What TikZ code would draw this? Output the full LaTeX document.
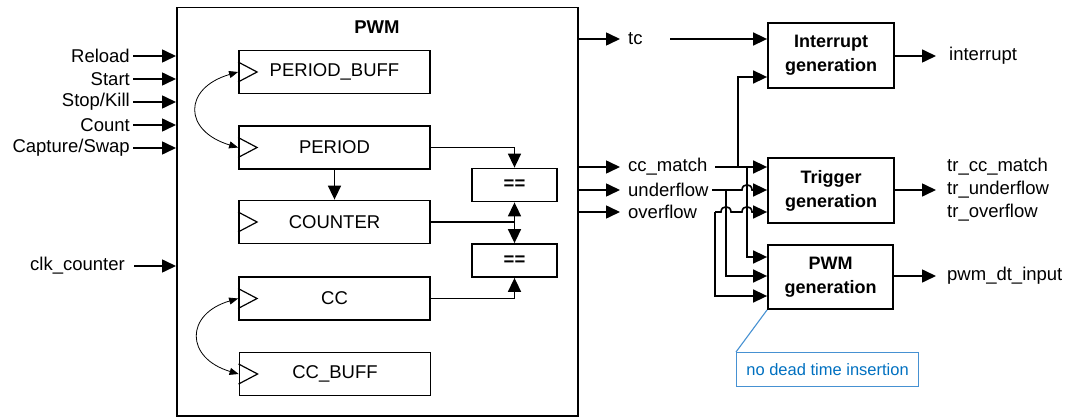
\documentclass[tikz,border=0pt]{standalone}
\usepackage{fontspec}
\setmainfont{Liberation Sans}
\usetikzlibrary{arrows.meta,calc}
\definecolor{calltext}{RGB}{0,112,192}
\definecolor{callline}{RGB}{70,145,210}
\tikzset{
  reg/.style={draw, line width=1.8pt, minimum width=191pt, minimum height=43pt, inner sep=0pt},
  cmp/.style={draw, line width=1.8pt, minimum width=85pt, minimum height=33pt, inner sep=0pt, font=\bfseries\fontsize{18.5}{22}\selectfont},
  genbox/.style={draw, line width=1.8pt, minimum width=126pt, minimum height=65pt, inner sep=0pt, align=center, font=\bfseries\fontsize{18}{24}\selectfont},
  lbl/.style={inner sep=0pt},
  wire/.style={line width=1.6pt, -{Triangle[length=14pt,width=13pt]}},
  plain/.style={line width=1.6pt},
  swap/.style={line width=0.8pt, {Triangle[length=9pt,width=7pt]}-{Triangle[length=9pt,width=7pt]}},
  clk/.style={line width=1.2pt},
}
\newcommand{\clocktri}[1]{\draw[clk] (#1.west) ++(0,-10) -- ++(19,10) -- ++(-19,10);}
\begin{document}
\begin{tikzpicture}[x=1pt,y=-1pt,font=\fontsize{18.5}{22}\selectfont]
\useasboundingbox (0,0) rectangle (1068,417);
% outer PWM block
\node[draw, line width=1.5pt, minimum width=401pt, minimum height=408pt, inner sep=0pt, anchor=north west] (pwm) at (176,7) {};
\node[font=\bfseries\fontsize{18.5}{22}\selectfont] (pwmt) at (377,27) {PWM};
% registers
\node[reg] (pbuf) at (334.5,72) {PERIOD\_BUFF};
\node[reg] (per) at (334.5,147.5) {PERIOD};
\node[reg] (cnt) at (334.5,222) {COUNTER};
\node[reg] (cc) at (334.5,298.5) {CC};
\node[reg] (ccb) at (335,374) {CC\_BUFF};
\clocktri{pbuf}\clocktri{per}\clocktri{cnt}\clocktri{cc}\clocktri{ccb}
% comparators
\node[cmp] (cmpa) at (514.5,185) {==};
\node[cmp] (cmpb) at (514.5,260.5) {==};
% swaps
\draw[swap] (pbuf.west) .. controls (183,88) and (183,131) .. (per.west);
\draw[swap] (cc.west) .. controls (185,314) and (185,358) .. (ccb.west);
% internal wires
\draw[wire] (per.south) -- (cnt.north);
\draw[wire] (per.east) -| (cmpa.north);
\coordinate (cj) at (cmpa.south |- cnt.east);
\draw[plain] (cnt.east) -- (cj);
\draw[wire] (cj) -- (cmpa.south);
\draw[wire] (cj) -- (cmpb.north);
\draw[wire] (cc.east) -| (cmpb.south);
% inputs
\node[lbl, anchor=east] (reload) at (130,56) {Reload};
\node[lbl, anchor=east] (start) at (130,79) {Start};
\node[lbl, anchor=east] (stop) at (130,102) {Stop/Kill};
\node[lbl, anchor=east] (count) at (130,125) {Count};
\node[lbl, anchor=east] (capt) at (130,148) {Capture/Swap};
\node[lbl, anchor=east] (clk) at (125,266) {clk\_counter};
\foreach \n in {reload,start,stop,count,capt}{
  \draw[wire] ([xshift=3pt]\n.east) -- (\n.east -| pwm.west);
}
\draw[wire] ([xshift=9pt]clk.east) -- (clk.east -| pwm.west);
% outputs of PWM
\node[lbl, anchor=west] (tc) at (628,39) {tc};
\node[lbl, anchor=west] (ccm) at (628,167) {cc\_match};
\node[lbl, anchor=west] (und) at (628,190) {underflow};
\node[lbl, anchor=west] (ovf) at (628,212) {overflow};
\foreach \n in {tc,ccm,und,ovf}{
  \draw[wire] (\n.west -| pwm.east) -- ([xshift=-8pt]\n.west);
}
% generation blocks
\node[genbox] (intg) at (831,55.5) {Interrupt\\generation};
\node[genbox] (trg) at (831,190.5) {Trigger\\generation};
\node[genbox, minimum width=125pt, minimum height=64pt] (pwmg) at (830.5,277) {PWM\\generation};
% outputs of generation blocks
\node[lbl, anchor=west] (intr) at (949,56) {interrupt};
\node[lbl, anchor=west] (trcc) at (947,167) {tr\_cc\_match};
\node[lbl, anchor=west] (trun) at (947,190) {tr\_underflow};
\node[lbl, anchor=west] (trov) at (947,213) {tr\_overflow};
\node[lbl, anchor=west] (pdt) at (947,276) {pwm\_dt\_input};
\draw[wire] (intg.east |- intr.west) -- (936,56);
\draw[wire] (trg.east |- trun.west) -- (936,190);
\draw[wire] (pwmg.east |- pdt.west) -- (936,276);
% tc to interrupt
\coordinate (tcs) at (670,39);
\draw[wire] (tcs) -- (tcs -| intg.west);
% routing coordinates
\coordinate (ccs) at (715,167);
\coordinate (uns) at (712,190);
\coordinate (ovs) at (715,212);
\coordinate (ja) at (738,167);
\coordinate (jb) at (747,167);
\coordinate (jc) at (726,190);
% cc_match
\draw[wire] (ccs) -- (ccs -| trg.west);
\draw[wire] (ja) |- (intg.west |- 0,77);
\draw[wire] (jb) |- (pwmg.west |- 0,257);
% underflow with hop over x=747
\draw[wire] (uns) -- (742,190) .. controls (742,183) and (752,183) .. (752,190) -- (uns -| trg.west);
\draw[wire] (jc) |- (pwmg.west |- 0,276);
% overflow with hops at 726 and 747
\draw[wire] (ovs) -- (721,212) .. controls (721,205) and (731,205) .. (731,212) -- (742,212) .. controls (742,205) and (752,205) .. (752,212) -- (ovs -| trg.west);
\draw[wire] (ovs) |- (pwmg.west |- 0,296);
% callout
\node[draw=callline, line width=1.1pt, text=calltext, font=\fontsize{16.5}{20}\selectfont, minimum width=182pt, minimum height=34pt, inner sep=0pt, anchor=north west] (note) at (736,352) {no dead time insertion};
\draw[callline, line width=1.1pt] (note.north west) -- (pwmg.south west);
\end{tikzpicture}
\end{document}
